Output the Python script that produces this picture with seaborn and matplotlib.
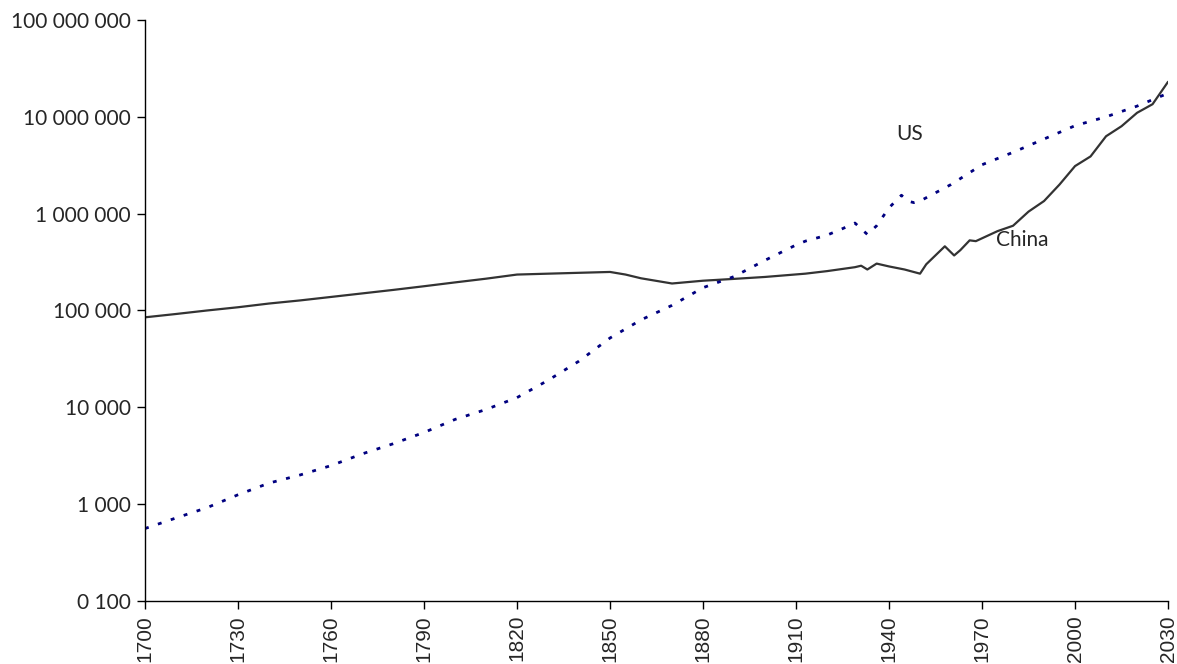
import pandas as pd
import matplotlib.pyplot as plt
import seaborn as sns
from matplotlib.ticker import FixedLocator, FixedFormatter

sns.set_style("white")

# data (log scale values)
us_years = [1700, 1710, 1720, 1730, 1740, 1750, 1760, 1770, 1780, 1790, 1800, 1810, 1820,
            1830, 1840, 1850, 1860, 1870, 1880, 1890, 1900, 1910, 1913, 1920, 1925, 1929,
            1933, 1936, 1940, 1944, 1946, 1948, 1950, 1960, 1970, 1980, 1990, 2000, 2010,
            2020, 2030]
us_values = [560, 720, 920, 1250, 1650, 2000, 2500, 3300, 4200, 5500, 7500, 9500, 12600,
             19000, 30000, 52000, 80000, 113000, 172000, 224000, 330000, 475000, 520000,
             600000, 700000, 800000, 610000, 750000, 1150000, 1550000, 1350000, 1300000,
             1350000, 2000000, 3200000, 4300000, 5900000, 8100000, 10000000, 12900000,
             17500000]

china_years = [1700, 1710, 1720, 1730, 1740, 1750, 1760, 1770, 1780, 1790, 1800, 1810,
               1820, 1830, 1840, 1850, 1855, 1860, 1870, 1880, 1890, 1900, 1913, 1920,
               1929, 1931, 1933, 1936, 1940, 1945, 1950, 1952, 1958, 1961, 1963, 1966,
               1968, 1975, 1980, 1985, 1990, 1995, 2000, 2005, 2010, 2015, 2020, 2025,
               2030]
china_values = [85000, 92000, 100000, 108000, 118000, 127000, 138000, 150000, 163000,
                178000, 195000, 213000, 235000, 240000, 245000, 250000, 235000, 215000,
                190000, 203000, 212000, 222000, 240000, 255000, 280000, 290000, 265000,
                305000, 285000, 265000, 240000, 300000, 460000, 370000, 420000, 530000,
                520000, 660000, 750000, 1050000, 1350000, 2000000, 3100000, 3900000,
                6300000, 8000000, 11000000, 13500000, 23000000]

y_ticks = [100, 1000, 10000, 100000, 1000000, 10000000, 100000000]
y_labels = ["0 100", "1 000", "10 000", "100 000", "1 000 000", "10 000 000", "100 000 000"]
x_ticks = list(range(1700, 2031, 30))

us = pd.DataFrame({"year": us_years, "value": us_values})
china = pd.DataFrame({"year": china_years, "value": china_values})

fig = plt.figure(figsize=(11.77, 6.64), dpi=100)
ax = fig.add_axes([0.1232, 0.0949, 0.8692, 0.875])

sns.lineplot(data=china, x="year", y="value", ax=ax, color="#333333", linewidth=1.6,
             estimator=None)
sns.lineplot(data=us, x="year", y="value", ax=ax, color="#000080", linewidth=2.0,
             estimator=None, linestyle=(0, (1.4, 3.5)))

ax.set_yscale("log")
ax.set_ylim(100, 100000000)
ax.set_xlim(1700, 2030)
ax.yaxis.set_major_locator(FixedLocator(y_ticks))
ax.yaxis.set_major_formatter(FixedFormatter(y_labels))
ax.yaxis.set_minor_locator(FixedLocator([]))
ax.set_xticks(x_ticks)
ax.set_xticklabels([str(t) for t in x_ticks], rotation=90, family="Liberation Sans",
                   fontsize=15)
for lab in ax.get_yticklabels():
    lab.set_family("Lato")
    lab.set_fontsize(15)

ax.set_xlabel("")
ax.set_ylabel("")
for side in ["top", "right"]:
    ax.spines[side].set_visible(False)
for side in ["left", "bottom"]:
    ax.spines[side].set_color("black")
    ax.spines[side].set_linewidth(1.0)
ax.tick_params(axis="both", direction="out", length=6, width=1, color="black", left=True,
               bottom=True, pad=4)

ax.text(1946.8, 6700000, "US", family="Lato", fontsize=15, ha="center", va="center")
ax.text(1983, 540000, "China", family="Lato", fontsize=15, ha="center", va="center")

fig.savefig("out.png", dpi=100)
